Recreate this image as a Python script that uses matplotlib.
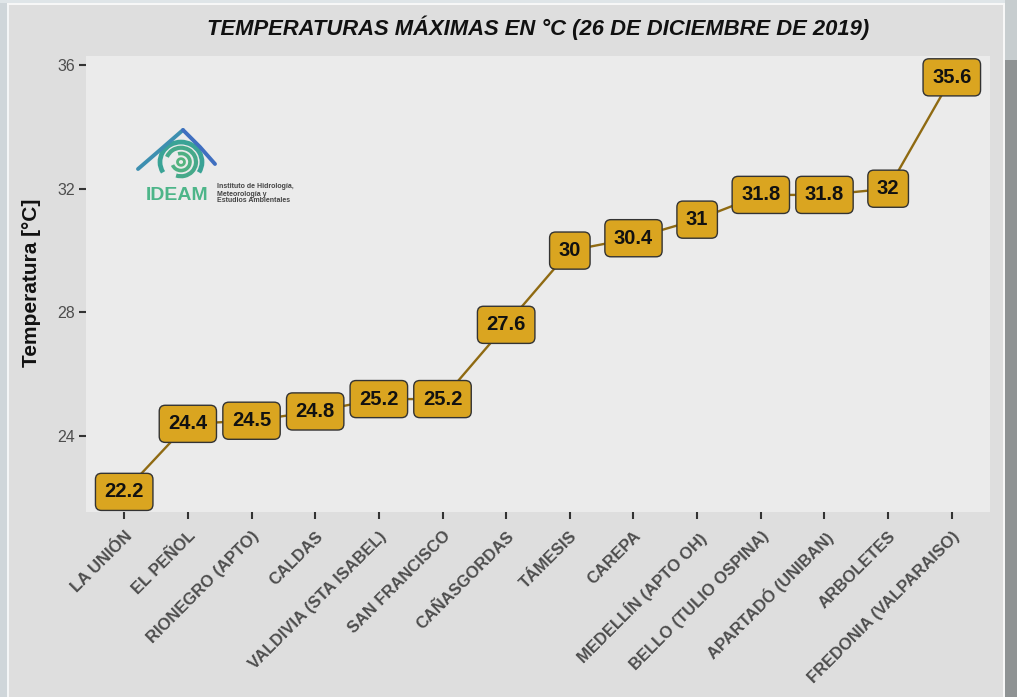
import matplotlib
matplotlib.use("Agg")
import matplotlib.pyplot as plt
from matplotlib.patches import Rectangle, Arc

# ---------------- data ----------------
stations = ["LA UNIÓN", "EL PEÑOL", "RIONEGRO (APTO)", "CALDAS",
            "VALDIVIA (STA ISABEL)", "SAN FRANCISCO", "CAÑASGORDAS",
            "TÁMESIS", "CAREPA", "MEDELLÍN (APTO OH)", "BELLO (TULIO OSPINA)",
            "APARTADÓ (UNIBAN)", "ARBOLETES", "FREDONIA (VALPARAISO)"]
temps = [22.2, 24.4, 24.5, 24.8, 25.2, 25.2, 27.6, 30, 30.4, 31, 31.8, 31.8, 32, 35.6]
labels = ["22.2", "24.4", "24.5", "24.8", "25.2", "25.2", "27.6", "30", "30.4",
          "31", "31.8", "31.8", "32", "35.6"]
yticks = [24, 28, 32, 36]
title = "TEMPERATURAS MÁXIMAS EN °C (26 DE DICIEMBRE DE 2019)"
ylabel = "Temperatura [°C]"

plt.rcParams['font.family'] = ['Liberation Sans', 'DejaVu Sans']

W, H = 1017, 697
fig = plt.figure(figsize=(W / 100, H / 100), dpi=100)
fig.patch.set_facecolor("#dedede")

def fx(px):
    return px / W

def fy(py):
    return 1 - py / H

ax = fig.add_axes([fx(86), fy(512), fx(990) - fx(86), fy(56) - fy(512)])
ax.set_facecolor("#ebebeb")
for s in ax.spines.values():
    s.set_visible(False)

x = list(range(len(stations)))
ax.plot(x, temps, color="#8f6a12", lw=1.7, zorder=2)
for xi, t, lab in zip(x, temps, labels):
    ax.text(xi, t, lab, ha="center", va="center", fontsize=14.5, fontweight="bold",
            color="#111111", zorder=3,
            bbox=dict(boxstyle="round,pad=0.45,rounding_size=0.3",
                      facecolor="#DAA520", edgecolor="#333333", lw=1.0))

ax.set_xlim(-0.6, len(stations) - 0.4)
ax.set_ylim(21.55, 36.29)
ax.set_yticks(yticks)
ax.set_yticklabels([str(v) for v in yticks], fontsize=11.5, color="#4d4d4d")
ax.set_xticks(x)
ax.set_xticklabels(stations, rotation=45, ha="right", va="top",
                   rotation_mode="anchor", fontsize=11.9, fontweight="bold",
                   color="#4d4d4d")
ax.tick_params(axis="both", length=5, width=1.5, color="#333333")
ax.tick_params(axis="x", pad=7)
ax.tick_params(axis="y", pad=3)

fig.text(fx(538), fy(28), title, ha="center", va="center", fontsize=15.8,
         fontweight="bold", fontstyle="italic", color="#111111")
fig.text(fx(32), fy(283), ylabel, ha="center", va="center", rotation=90,
         fontsize=15, fontweight="bold", color="#111111")

# ---------------- overlay: frame + logo ----------------
ov = fig.add_axes([0, 0, 1, 1], facecolor="none")
ov.set_xlim(0, W)
ov.set_ylim(H, 0)
ov.axis("off")

# screenshot frame
ov.add_patch(Rectangle((0, 0), 7, H, facecolor="#cfd6da", edgecolor="none"))
ov.add_patch(Rectangle((7, 0), 2, H, facecolor="#f4f6f7", edgecolor="none"))
ov.add_patch(Rectangle((0, 0), W, 3, facecolor="#dfe5e8", edgecolor="none"))
ov.add_patch(Rectangle((7, 3), 998, 1.5, facecolor="#f7f7f7", edgecolor="none"))
ov.add_patch(Rectangle((1003, 3), 2, H, facecolor="#f7f7f7", edgecolor="none"))
ov.add_patch(Rectangle((1005, 0), 12, H, facecolor="#8f9394", edgecolor="none"))
ov.add_patch(Rectangle((1005, 0), 12, 60, facecolor="#c7cdcf", edgecolor="none"))

# logo
ov.plot([138, 160, 183], [169, 150, 130], color="#3d8fb0", lw=2.8,
        solid_capstyle="round")
ov.plot([183, 200, 215], [130, 147, 164], color="#3f6fc0", lw=2.8,
        solid_capstyle="round")
for r, th1, th2, c, lw in [(21, 150, 390, "#3aa396", 3.4),
                           (15, 200, 470, "#46a98a", 3.0),
                           (9, 250, 520, "#4fb083", 2.6),
                           (3.5, 0, 360, "#55b47e", 2.0)]:
    ov.add_patch(Arc((181, 162), 2 * r, 2 * r * 0.95, theta1=th1, theta2=th2,
                     color=c, lw=lw))
ov.text(177, 196, "IDEAM", ha="center", va="center", fontsize=14,
        fontweight="bold", color="#4db589")
for i, line in enumerate(["Instituto de Hidrología,", "Meteorología y",
                          "Estudios Ambientales"]):
    ov.text(217, 187 + 7 * i, line, ha="left", va="center", fontsize=5,
            fontweight="bold", color="#444444")

fig.savefig("out.png", dpi=100, facecolor=fig.get_facecolor())
